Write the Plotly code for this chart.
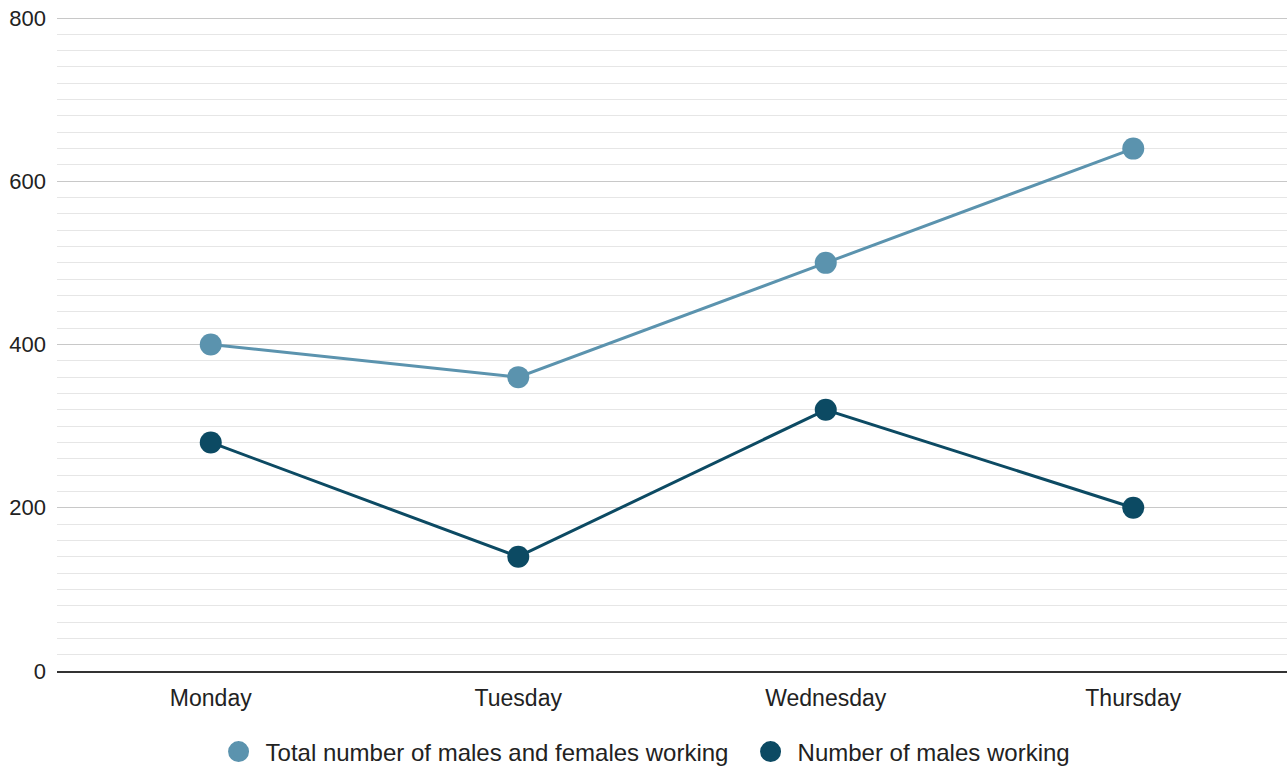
import plotly.graph_objects as go

days = ["Monday", "Tuesday", "Wednesday", "Thursday"]
total_working = [400, 360, 500, 640]
males_working = [280, 140, 320, 200]
series_names = ["Total number of males and females working", "Number of males working"]
series_colors = ["#5b93ae", "#0c4a63"]
y_ticks = [0, 200, 400, 600, 800]

fig = go.Figure()
for name, vals, col in zip(series_names, [total_working, males_working], series_colors):
    fig.add_trace(go.Scatter(x=days, y=vals, name=name, mode="lines+markers", showlegend=False,
                             line=dict(color=col, width=3), marker=dict(size=22, color=col)))
# legend-only entries (circle markers, no line)
for name, col in zip(series_names, series_colors):
    fig.add_trace(go.Scatter(x=[None], y=[None], name=name, mode="markers",
                             marker=dict(size=25, color=col, line=dict(color=col, width=9))))

fig.update_layout(
    width=1288, height=766,
    margin=dict(l=57, r=1, t=16, b=95, autoexpand=False),
    paper_bgcolor="white", plot_bgcolor="white",
    font=dict(family="Liberation Sans, Arial, sans-serif", size=22, color="#222"),
    showlegend=True,
    legend=dict(orientation="h", xref="container", yref="container", x=0.5773, xanchor="center",
                y=0.0183, yanchor="middle",
                font=dict(size=24), itemsizing="trace", itemwidth=44, entrywidth=473),
    xaxis=dict(type="category", range=[-0.5, 3.5], showgrid=False, showline=True,
               linecolor="#333", linewidth=1.5, ticks="", ticklabelstandoff=6,
               tickangle=0, automargin=False, tickfont=dict(size=23)),
    yaxis=dict(range=[0, 802.45], tickvals=y_ticks, showgrid=True, gridcolor="#c8c8c8",
               gridwidth=1, zeroline=False, ticks="", tickfont=dict(size=22),
               ticklabelstandoff=10, automargin=False, ticklabeloverflow="allow",
               minor=dict(dtick=20, showgrid=True, gridcolor="#e6e6e6", gridwidth=1)),
)

fig.write_html("out.html", config={"displayModeBar": False},
               post_script="document.body.style.margin='0';document.body.style.overflow='hidden';")
